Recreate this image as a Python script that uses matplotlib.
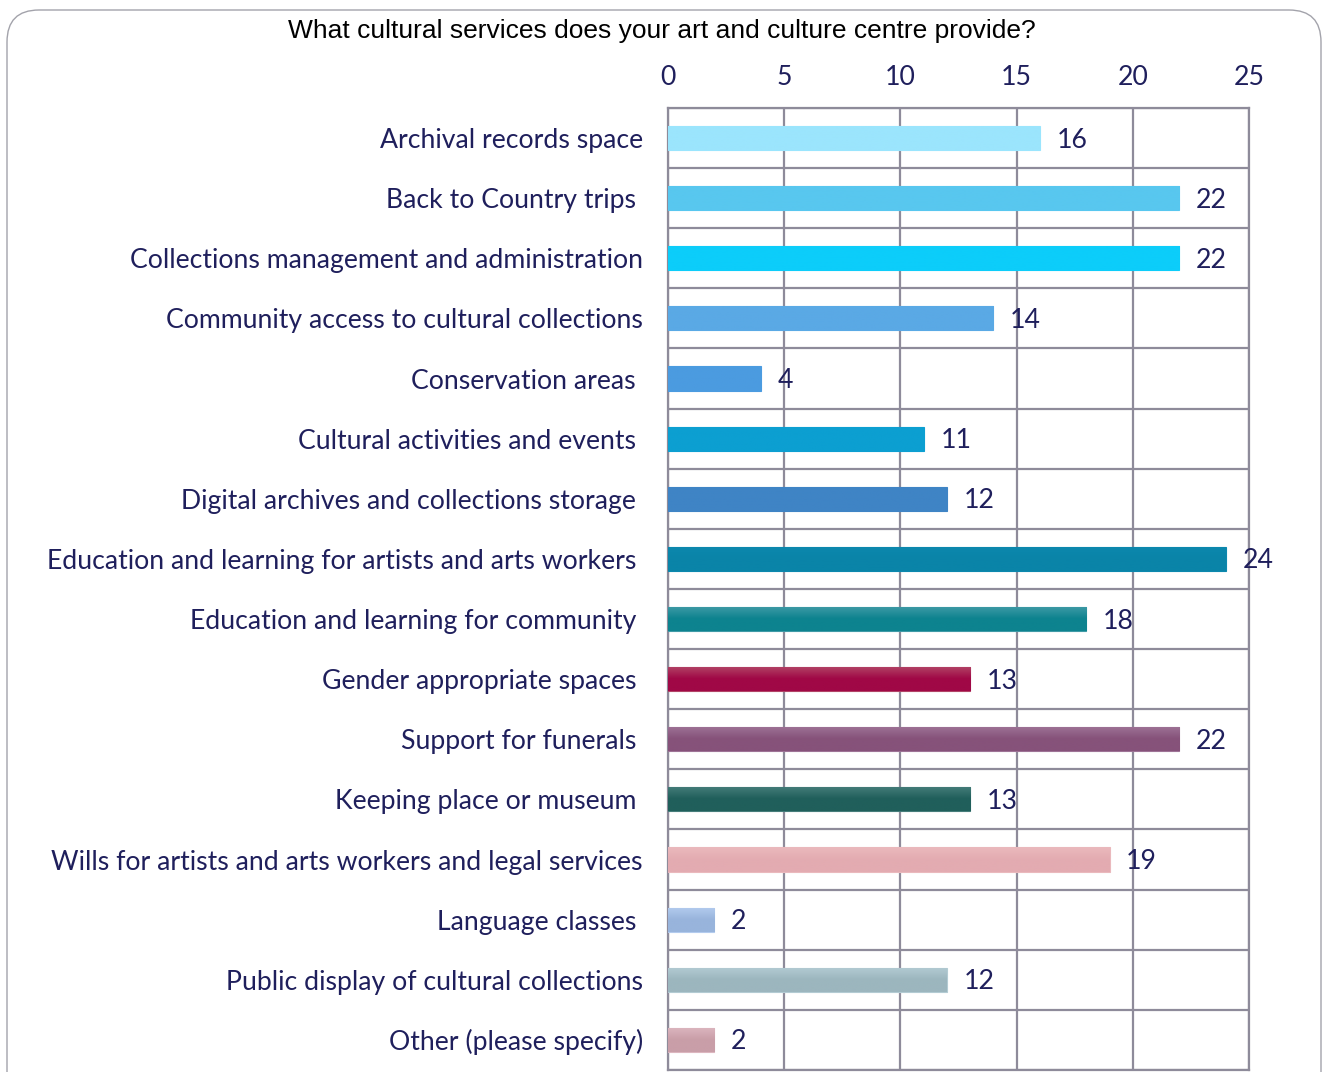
import numpy as np
import matplotlib
matplotlib.use("Agg")
import matplotlib.pyplot as plt
import matplotlib.transforms as mtransforms
from matplotlib.patches import FancyBboxPatch
from matplotlib.colors import LinearSegmentedColormap

# survey answers
services = [
    "Archival records space",
    "Back to Country trips ",
    "Collections management and administration",
    "Community access to cultural collections",
    "Conservation areas ",
    "Cultural activities and events ",
    "Digital archives and collections storage ",
    "Education and learning for artists and arts workers ",
    "Education and learning for community ",
    "Gender appropriate spaces ",
    "Support for funerals ",
    "Keeping place or museum ",
    "Wills for artists and arts workers and legal services",
    "Language classes ",
    "Public display of cultural collections",
    "Other (please specify)",
]
counts = [16, 22, 22, 14, 4, 11, 12, 24, 18, 13, 22, 13, 19, 2, 12, 2]
x_ticks = [0, 5, 10, 15, 20, 25]

# top / bottom shade of each bar
bar_top = ["#9be5fd", "#58c7ef", "#0ccdfa", "#5aa9e5", "#4b9be0", "#0c9fd1",
           "#3f84c5", "#0c88ae", "#3f9aa6", "#b24466", "#9e7396", "#457d7a",
           "#eab9bd", "#b3cbee", "#b3cbd3", "#dcb6bf"]
bar_bot = ["#9be5fd", "#58c7ef", "#0ccdfa", "#5aa9e5", "#4b9be0", "#0c9fd1",
           "#3f84c5", "#0a84a8", "#0d838f", "#a00846", "#86527a", "#205f5b",
           "#e3abb1", "#98b4dc", "#9cb6be", "#c99ea8"]

text_col = "#1f1f5c"
grid_col = "#8e8b9a"
fs = 19.2

fig = plt.figure(figsize=(13.23, 10.72), dpi=100)

# rounded frame around the whole chart (pixel coords)
frame = FancyBboxPatch((7, -40), 1314, 1102, boxstyle="round,pad=0,rounding_size=32",
                       transform=None, facecolor="none", edgecolor="#a3a3ab", lw=1.0)
fig.patches.append(frame)

ax = fig.add_axes([0.5049, 0.0019, 0.4392, 0.8974])

y = np.arange(len(services))
bars = ax.barh(y, counts, height=0.4, color=bar_bot, zorder=3)

# vertical shading inside each bar
for i, b in enumerate(bars):
    b.set_edgecolor(bar_top[i])
    b.set_linewidth(0.8)
    cm = LinearSegmentedColormap.from_list("g%d" % i, [bar_top[i], bar_bot[i], bar_bot[i]])
    x0, y0 = b.get_x(), b.get_y()
    w, h = b.get_width(), b.get_height()
    im = ax.imshow(np.linspace(0, 1, 64).reshape(-1, 1), cmap=cm, aspect="auto",
                   extent=(x0, x0 + w, y0, y0 + h), origin="lower", zorder=3.5)
    im.set_clip_path(b)

for i, v in enumerate(counts):
    ax.annotate(str(v), (v, i), xytext=(12, -1.5), textcoords="offset points",
                va="center", ha="left", fontsize=fs, family="Lato", color=text_col, zorder=5)

ax.set_xlim(0, 25)
ax.set_ylim(len(services) - 0.5, -0.5)
ax.xaxis.tick_top()
ax.set_xticks(x_ticks)
ax.set_xticklabels([str(t) for t in x_ticks], fontsize=fs, family="Lato", color=text_col)
ax.set_yticks(y)
ax.set_yticklabels(services, fontsize=fs, family="Lato", color=text_col)
# nudge category labels down a little
shift = mtransforms.ScaledTranslation(0, -2 / 100, fig.dpi_scale_trans)
for t in ax.get_yticklabels():
    t.set_transform(t.get_transform() + shift)
ax.tick_params(axis="x", length=0, pad=13)
ax.tick_params(axis="y", length=0, pad=18)
ax.set_yticks(np.arange(-0.5, len(services), 1), minor=True)
ax.tick_params(axis="y", which="minor", length=0)
ax.grid(axis="x", which="major", color=grid_col, lw=1.6, zorder=1)
ax.grid(axis="y", which="minor", color=grid_col, lw=1.6, zorder=1)
ax.set_axisbelow(True)
for s in ax.spines.values():
    s.set_color(grid_col)
    s.set_linewidth(1.6)

fig.text(0.5, 1 - 31 / 1072, "What cultural services does your art and culture centre provide?",
         ha="center", va="center", fontsize=19, family="Liberation Sans", color="black")

fig.savefig("out.png", dpi=100)
